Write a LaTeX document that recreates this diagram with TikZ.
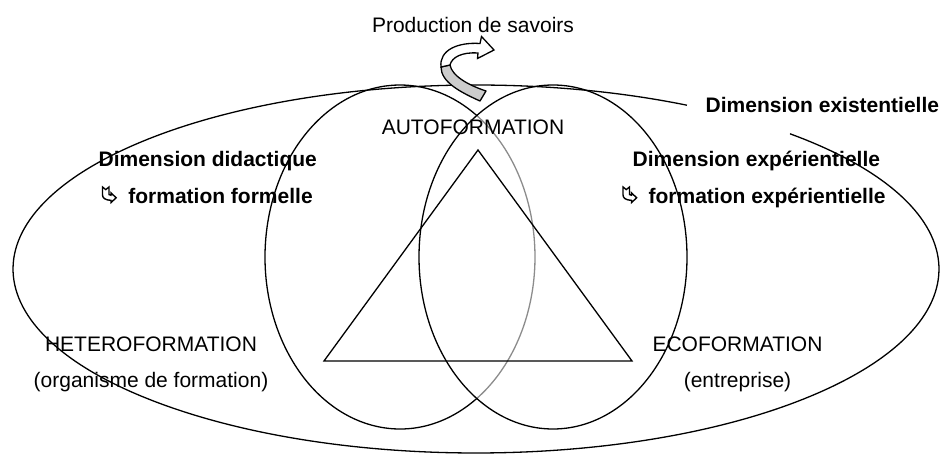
\documentclass[tikz,border=0pt]{standalone}
\usepackage{fontspec}
\setmainfont{Liberation Sans}
\begin{document}
\begin{tikzpicture}[x=1pt, y=-1pt, line width=1.3pt,
  lbl/.style={inner sep=0pt, font=\fontsize{21}{25}\selectfont},
  bld/.style={inner sep=0pt, font=\fontsize{21}{25}\selectfont\bfseries},
  turnarrow/.pic={
    \draw[line width=1.4pt, line join=miter]
      (0,0) -- (2.5,2) -- (5,0) -- (5,5.8) -- (6.5,6.3) -- (6.5,4.5)
      -- (10.5,8.3) -- (6.5,12) -- (6.5,10.3)
      .. controls (2,10) and (0,8.5) .. (0,6) -- cycle;
  }]
\useasboundingbox (0,0) rectangle (940,454);

% outer ellipse: existential dimension (open where its label sits)
\draw (476,269) ++(-47.3:463 and 184)
  arc[start angle=-47.3, end angle=297.1, x radius=463, y radius=184];

% left ellipse: didactic dimension (part inside the right ellipse in grey)
\draw (400,257) ++(55.5:135 and 172)
  arc[start angle=55.5, end angle=304.5, x radius=135, y radius=172];
\draw[black!45] (400,257) ++(-55.5:135 and 172)
  arc[start angle=-55.5, end angle=55.5, x radius=135, y radius=172];

% right ellipse: experiential dimension
\draw (553,257) ellipse[x radius=134, y radius=172];

% triangle of the three poles
\draw[line join=miter] (478,150) -- (632,361) -- (324,361) -- cycle;

% curved arrow: production of knowledge
\draw[fill=black!20, line join=round]
  (441,67) .. controls (441,82) and (460,92) .. (480,101)
  -- (486,91) .. controls (468,85) and (452,76) .. (450,65) -- cycle;
\draw[fill=white, line join=miter]
  (441,67) .. controls (439,50) and (458,42) .. (480,43.5)
  -- (481.5,36.5) -- (494,50) -- (477.5,58.5) -- (478,53)
  .. controls (462,52) and (452,57) .. (450,65) -- cycle;

% labels
\node[lbl, anchor=base] (prod) at (473,33) {Production de savoirs};
\node[lbl, anchor=base] (auto) at (473,134.5) {AUTOFORMATION};
\node[bld, anchor=base west] (exist) at (705,113) {Dimension existentielle};

\node[bld, anchor=base west] (didac) at (98,167) {Dimension didactique};
\pic[scale=1.3] at (102.5,187) {turnarrow};
\node[bld, anchor=base west] (formel) at (127.7,204) {formation formelle};

\node[bld, anchor=base west] (exper) at (632,167) {Dimension expérientielle};
\pic[scale=1.3] at (623,187) {turnarrow};
\node[bld, anchor=base west] (formexp) at (648,204) {formation expérientielle};

\node[lbl, anchor=base] (hetero) at (151,352) {HETEROFORMATION};
\node[lbl, anchor=base] (orga) at (151,388) {(organisme de formation)};
\node[lbl, anchor=base] (eco) at (737.5,352) {ECOFORMATION};
\node[lbl, anchor=base] (entr) at (737.5,388) {(entreprise)};
\end{tikzpicture}
\end{document}
